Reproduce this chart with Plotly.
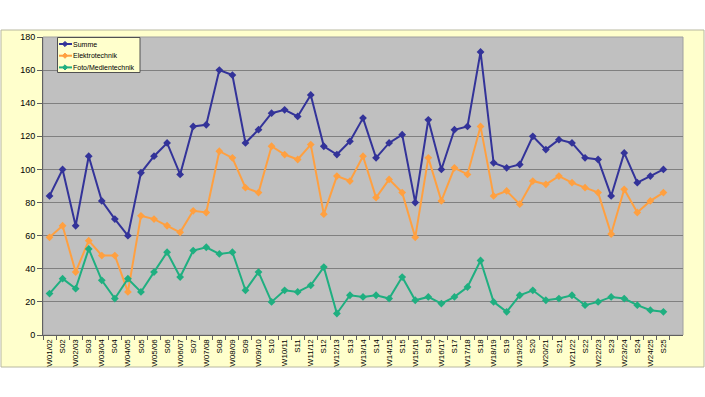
import plotly.graph_objects as go

categories = ["W01/02", "S02", "W02/03", "S03", "W03/04", "S04", "W04/05", "S05",
              "W05/06", "S06", "W06/07", "S07", "W07/08", "S08", "W08/09", "S09",
              "W09/10", "S10", "W10/11", "S11", "W11/12", "S12", "W12/13", "S13",
              "W13/14", "S14", "W14/15", "S15", "W15/16", "S16", "W16/17", "S17",
              "W17/18", "S18", "W18/19", "S19", "W19/20", "S20", "W20/21", "S21",
              "W21/22", "S22", "W22/23", "S23", "W23/24", "S24", "W24/25", "S25"]

summe = [84, 100, 66, 108, 81, 70, 60, 98, 108, 116, 97, 126, 127, 160, 157, 116,
         124, 134, 136, 132, 145, 114, 109, 117, 131, 107, 116, 121, 80, 130, 100, 124,
         126, 171, 104, 101, 103, 120, 112, 118, 116, 107, 106, 84, 110, 92, 96, 100]

elektro = [59, 66, 38, 57, 48, 48, 26, 72, 70, 66, 62, 75, 74, 111, 107, 89,
           86, 114, 109, 106, 115, 73, 96, 93, 108, 83, 94, 86, 59, 107, 81, 101,
           97, 126, 84, 87, 79, 93, 91, 96, 92, 89, 86, 61, 88, 74, 81, 86]

foto = [25, 34, 28, 52, 33, 22, 34, 26, 38, 50, 35, 51, 53, 49, 50, 27,
        38, 20, 27, 26, 30, 41, 13, 24, 23, 24, 22, 35, 21, 23, 19, 23,
        29, 45, 20, 14, 24, 27, 21, 22, 24, 18, 20, 23, 22, 18, 15, 14]

y_ticks = [0, 20, 40, 60, 80, 100, 120, 140, 160, 180]

series = [("Summe", summe, "#333399"),
          ("Elektrotechnik", elektro, "#FFA040"),
          ("Foto/Medientechnik", foto, "#1FAF80")]

W, H = 705, 397
L, R, T, B = 43, 22, 37, 62
pw, ph = W - L - R, H - T - B

def px_x(p):
    return (p - L) / pw

def px_y(p):
    return (H - B - p) / ph

fig = go.Figure()
for name, vals, col in series:
    fig.add_trace(go.Scatter(
        x=categories, y=vals, name=name, mode="lines+markers",
        line=dict(color=col, width=2),
        marker=dict(symbol="diamond", size=6, color=col),
        showlegend=False,
    ))

shapes = [
    dict(type="rect", xref="paper", yref="paper", layer="below",
         x0=px_x(1), x1=px_x(704), y0=px_y(367), y1=px_y(30),
         fillcolor="#FFFFCC", line=dict(color="#B8B8A0", width=1)),
    dict(type="rect", xref="paper", yref="paper", layer="below",
         x0=0, x1=1, y0=0, y1=1,
         fillcolor="#C0C0C0", line=dict(color="#A0A0A0", width=1)),
    # legend box
    dict(type="rect", xref="paper", yref="paper", layer="above",
         x0=px_x(57.5), x1=px_x(140), y0=px_y(72.5), y1=px_y(37.5),
         fillcolor="#FFFFCC", line=dict(color="#505050", width=1)),
]
annotations = []
for i, (name, vals, col) in enumerate(series):
    yc = 44 + i * 11.7
    shapes.append(dict(type="line", xref="paper", yref="paper", layer="above",
                       x0=px_x(59), x1=px_x(72), y0=px_y(yc), y1=px_y(yc),
                       line=dict(color=col, width=2)))
    d = 2.6
    cx = 65
    path = "M {} {} L {} {} L {} {} L {} {} Z".format(
        px_x(cx - d), px_y(yc), px_x(cx), px_y(yc - d),
        px_x(cx + d), px_y(yc), px_x(cx), px_y(yc + d))
    shapes.append(dict(type="path", xref="paper", yref="paper", layer="above",
                       path=path, fillcolor=col, line=dict(color=col, width=1)))
    annotations.append(dict(text=name, xref="paper", yref="paper",
                            x=px_x(71), y=px_y(yc), xanchor="left", yanchor="middle",
                            showarrow=False, font=dict(size=7, color="#000000")))

fig.update_layout(
    width=W, height=H,
    margin=dict(l=L, r=R, t=T, b=B),
    paper_bgcolor="white",
    plot_bgcolor="rgba(0,0,0,0)",
    font=dict(family="Liberation Sans, Arial, sans-serif", size=9, color="#000000"),
    showlegend=False,
    shapes=shapes,
    annotations=annotations,
    xaxis=dict(
        type="category", tickangle=-90, tickfont=dict(size=8),
        showgrid=False, showline=True, linecolor="#606060", linewidth=1,
        ticks="outside", ticklen=4, tickcolor="#606060", tickson="boundaries",
        range=[-0.5, len(categories) + 0.5], zeroline=False,
    ),
    yaxis=dict(
        range=[0, 180], tickvals=y_ticks, showgrid=True, gridcolor="#808080",
        gridwidth=1, showline=True, linecolor="#606060", linewidth=1,
        ticks="outside", ticklen=5, tickcolor="#606060", zeroline=False,
        tickfont=dict(size=9),
    ),
)

fig.write_html("out.html", config={"displayModeBar": False},
               post_script="document.body.style.margin='0';")
